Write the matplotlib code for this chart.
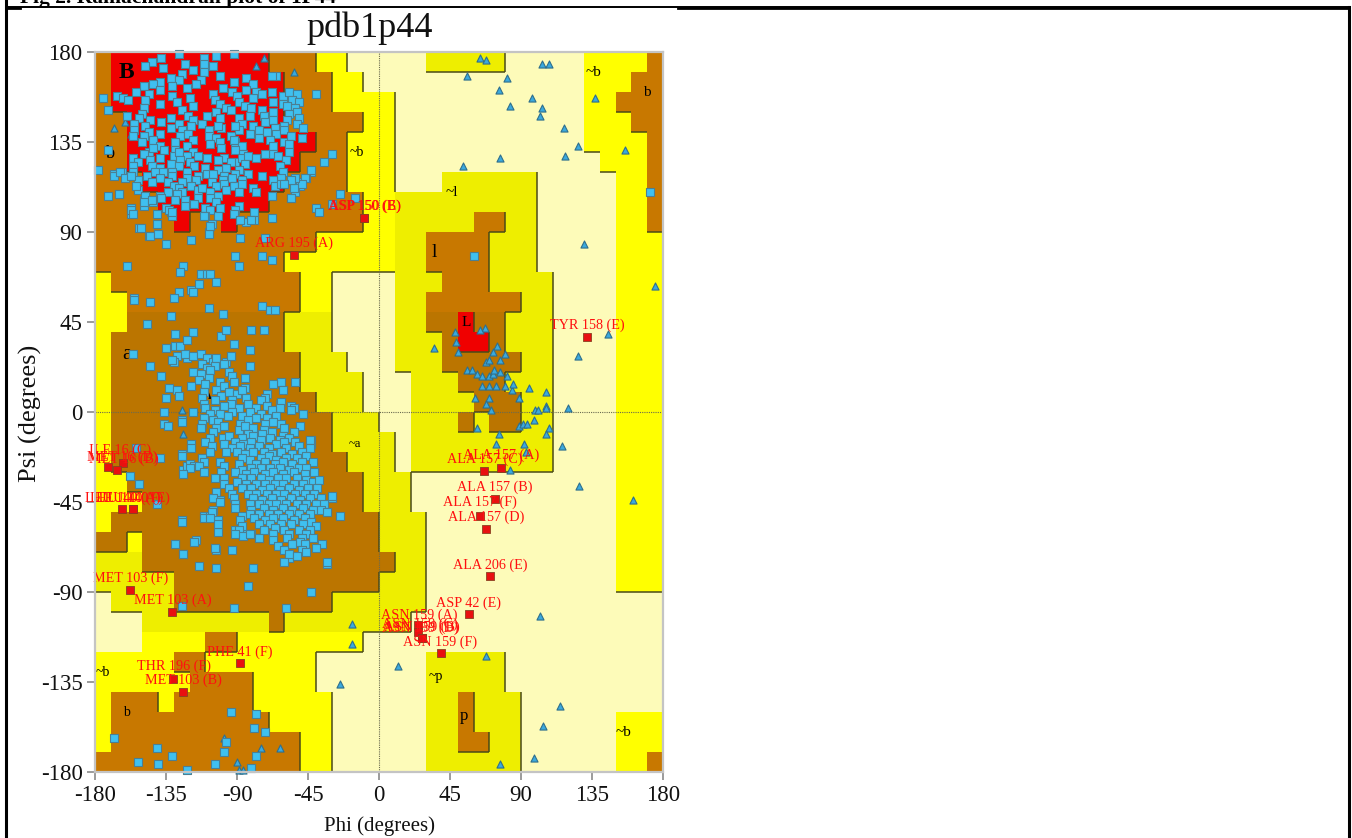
import numpy as np
import matplotlib
matplotlib.use("Agg")
import matplotlib.pyplot as plt
from matplotlib.colors import ListedColormap
from matplotlib.lines import Line2D

plt.rcParams["axes.unicode_minus"] = False
SERIF = "Liberation Serif"
W, H = 1352, 838

# Ramachandran regions: one run-length row per 10 degrees of psi, from +180 down
region_rows = [
 "B1 R10 B3 Y2 P5 O5 P5 Y4 B1", "B1 R11 B3 Y2 P14 Y3 B2", "B1 R11 B3 Y4 P12 Y2 B3",
 "B2 R10 B5 Y2 P12 Y3 B2", "B2 R12 B2 Y3 P12 Y4 B1", "B2 R11 B3 Y3 P13 Y3 B1",
 "B3 R9 B4 Y3 P3 O6 P5 Y2 B1", "B4 R7 B6 Y2 O9 P5 Y2 B1",
 "B5 R1 B2 R1 B8 Y2 O5 B2 O2 P5 Y2 B1", "B14 Y5 O2 B4 O3 P5 Y3", "B12 Y7 O2 B4 O3 P5 Y3",
 "Y1 B12 Y2 P4 O3 B3 O4 P4 Y3", "Y2 B11 Y2 P4 O2 B6 O2 P4 Y3",
 "Y2 D10 O3 P4 O2 D2 R1 D2 O3 P4 Y3", "Y1 D11 O3 P4 O3 D1 R2 D1 O3 P4 Y3",
 "Y1 D12 O3 P3 O3 D5 O2 P4 Y3", "Y1 D12 O4 P3 O3 D3 O3 P4 Y3", "Y1 D13 O3 P3 O4 D3 O2 P4 Y3",
 "Y1 D14 O3 P2 O3 D1 O1 D2 O2 P4 Y3", "Y1 D14 O4 P1 O9 P4 Y3", "Y1 D15 O3 P1 O9 P4 Y3",
 "Y2 D15 O3 P13 Y3", "Y3 D14 O3 P13 Y3", "Y1 D17 O3 P12 Y3", "D2 Y1 D15 O3 P12 Y3",
 "O3 D16 O2 P12 Y3", "O5 D13 O3 P12 Y3", "P1 O4 D10 O6 P15", "P3 O8 D1 O8 P16",
 "P3 Y4 B2 Y8 P19", "Y5 B2 Y7 P7 O5 P10", "Y6 B4 Y4 P7 O5 P10",
 "Y1 B3 Y1 B5 Y5 P6 O2 B1 O3 P9", "Y1 B10 Y4 P6 O2 B1 O3 P6 Y3",
 "Y1 B12 Y2 P6 O2 B2 O2 P6 Y3", "B13 Y2 P6 O6 P6 Y2 B1",
]
region_codes = "POYDBR"
region_colors = ["#FDFBB9", "#EEEE00", "#FFFF00", "#BB7500", "#C87800", "#F00000"]
region_level = {"P": 0, "O": 1, "Y": 1, "D": 2, "B": 2, "R": 3}

# Non-glycine residues in the beta area: (phi, psi)
beta_pts = [
 (-127,179),(-111,177),(-103,178),(-92,179),(-144,175),(-138,177),(-148,173),(-111,174),(-137,172),(-123,174),
 (-118,171),(-105,173),(-125,169),(-111,170),(-101,168),(-132,167),(-113,166),(-84,167),(-65,168),(-139,165),
 (-127,166),(-92,165),(-80,164),(-68,168),(-149,163),(-143,164),(-122,162),(-116,164),(-99,162),(-84,161),
 (-154,160),(-146,159),(-139,161),(-131,163),(-105,159),(-93,160),(-90,158),(-78,160),(-68,160),(-166,158),
 (-162,157),(-159,156),(-148,156),(-131,158),(-120,157),(-104,156),(-80,157),(-74,159),(-61,158),(-57,160),
 (-52,159),(-149,152),(-139,154),(-128,155),(-118,153),(-101,154),(-97,152),(-89,155),(-85,153),(-67,155),
 (-61,154),(-55,156),(-51,155),(-150,149),(-125,151),(-103,150),(-94,151),(-81,152),(-74,151),(-67,150),
 (-58,153),(-53,152),(-160,148),(-152,147),(-121,148),(-89,147),(-82,148),(-73,148),(-57,149),(-52,150),
 (-145,146),(-132,147),(-127,144),(-118,146),(-109,148),(-101,147),(-87,144),(-72,145),(-67,146),(-58,146),
 (-51,147),(-155,144),(-148,143),(-138,145),(-119,143),(-112,144),(-100,142),(-89,141),(-80,143),(-66,142),
 (-60,143),(-52,144),(-155,141),(-146,140),(-132,142),(-125,141),(-108,141),(-102,143),(-91,143),(-82,139),
 (-76,141),(-71,140),(-65,139),(-48,142),(-156,138),(-149,138),(-139,139),(-126,138),(-121,139),(-108,138),
 (-103,137),(-94,138),(-91,135),(-76,137),(-60,141),(-150,135),(-143,136),(-129,135),(-118,136),(-107,134),
 (-101,135),(-92,136),(-87,133),(-69,136),(-60,135),(-56,138),(-49,137),(-139,133),(-136,131),(-129,131),
 (-122,133),(-118,130),(-100,132),(-91,131),(-86,129),(-67,133),(-57,134),(-146,130),(-143,132),(-130,128),
 (-127,130),(-122,128),(-67,129),(-57,130),(-156,127),(-149,129),(-126,126),(-120,125),(-115,128),(-109,127),
 (-98,127),(-91,125),(-87,127),(-83,128),(-78,127),(-72,129),(-64,128),(-59,126),(-153,125),(-145,126),
 (-139,127),(-132,124),(-127,123),(-102,126),(-94,125),(-85,124),(-63,123),(-156,123),(-144,123),(-139,122),
 (-117,123),(-110,122),(-97,122),(-61,120),(-156,120),(-142,120),(-137,120),(-131,120),(-122,120),(-109,119),
 (-102,121),(-89,121),(-168,119),(-163,120),(-157,118),(-147,118),(-139,117),(-131,118),(-122,117),(-115,118),
 (-105,119),(-98,118),(-91,119),(-83,119),(-74,118),(-62,117),(-43,120),(-161,117),(-153,116),(-144,115),
 (-134,115),(-125,115),(-116,116),(-106,115),(-99,116),(-93,117),(-87,116),(-67,116),(-56,116),(-52,115),
 (-46,117),(-130,113),(-127,112),(-119,113),(-103,113),(-98,114),(-92,113),(-87,114),(-80,112),(-66,113),
 (-62,114),(-50,113),(-153,111),(-134,110),(-125,110),(-115,111),(-112,112),(-107,110),(-97,111),(-89,110),
 (-78,110),(-53,110),(-165,109),(-148,108),(-139,108),(-128,109),(-115,107),(-102,108),(-68,108),(-56,107),
 (-149,106),(-143,105),(-138,107),(-129,106),(-123,106),(-107,107),(-103,105),(-149,103),(-123,103),(-117,104),
 (-110,102),(-89,103),(-157,102),(-135,102),(-132,100),(-107,101),(-101,102),(-91,101),(-79,100),(-40,102),
 (-157,99),(-141,99),(-131,98),(-110,98),(-102,98),(-92,99),(-79,96),(-88,96),(-84,95),(-81,96),(-68,97),
 (-141,94),(-106,94),(-152,92),(-108,90),(-140,89),(-146,88),
]

# Non-glycine residues in the alpha area: (phi, psi)
alpha_pts = [
 (-123,29),(-118,28),(-113,29),(-109,27),(-94,28),(-131,26),(-105,25),(-103,27),(-98,24),(-112,24),(-109,22),
 (-104,23),(-82,23),(-118,20),(-113,19),(-107,21),(-95,20),(-93,18),(-114,16),(-108,17),(-101,15),(-85,17),
 (-119,13),(-110,14),(-98,13),(-92,15),(-85,12),(-111,10),(-103,11),(-100,8),(-95,10),(-90,9),(-87,11),(-71,9),
 (-112,7),(-104,6),(-93,6),(-84,7),(-72,7),(-111,4),(-94,4),(-83,4),(-75,6),(-71,3),(-62,5),(-110,2),(-104,1),
 (-98,3),(-89,2),(-78,2),(-63,2),(-56,1),(-118,0),(-107,-1),(-101,-1),(-93,0),(-87,-2),(-82,0),(-75,-1),(-68,1),
 (-111,-3),(-105,-4),(-96,-2),(-78,-3),(-71,-3),(-65,-2),(-48,-1),(-125,-5),(-112,-6),(-102,-5),(-98,-7),(-88,-6),
 (-83,-4),(-72,-6),(-67,-5),(-62,-6),(-113,-8),(-103,-8),(-89,-9),(-85,-7),(-80,-8),(-73,-9),(-60,-8),(-50,-7),
 (-105,-10),(-83,-11),(-74,-11),(-68,-10),(-61,-12),(-54,-10),(-107,-13),(-99,-13),(-95,-12),(-87,-13),(-80,-12),
 (-69,-13),(-63,-14),(-57,-13),(-110,-15),(-98,-16),(-91,-15),(-86,-16),(-81,-15),(-75,-14),(-65,-16),(-60,-15),
 (-53,-15),(-44,-14),(-119,-18),(-106,-17),(-93,-18),(-88,-17),(-82,-18),(-76,-17),(-70,-18),(-59,-18),(-51,-17),
 (-44,-18),(-107,-20),(-97,-20),(-90,-20),(-85,-21),(-80,-20),(-73,-20),(-68,-21),(-62,-20),(-55,-21),(-49,-20),
 (-125,-22),(-112,-23),(-87,-23),(-82,-24),(-75,-23),(-70,-22),(-65,-24),(-59,-23),(-52,-23),(-46,-22),(-111,-25),
 (-101,-25),(-89,-26),(-78,-26),(-72,-25),(-66,-26),(-61,-25),(-55,-26),(-49,-25),(-42,-25),(-120,-28),(-114,-27),
 (-98,-27),(-87,-29),(-81,-28),(-75,-28),(-69,-28),(-63,-28),(-57,-29),(-51,-28),(-46,-28),(-124,-31),(-111,-30),
 (-100,-30),(-91,-30),(-84,-31),(-79,-30),(-72,-31),(-67,-30),(-61,-31),(-54,-30),(-47,-31),(-41,-30),(-104,-33),
 (-98,-33),(-87,-33),(-81,-33),(-75,-33),(-70,-34),(-64,-33),(-59,-33),(-52,-33),(-46,-34),(-98,-36),(-90,-35),
 (-84,-36),(-78,-36),(-72,-36),(-66,-36),(-61,-36),(-54,-36),(-48,-36),(-42,-35),(-38,-34),(-95,-38),(-87,-38),
 (-81,-38),(-74,-39),(-69,-38),(-63,-39),(-57,-38),(-51,-39),(-45,-38),(-39,-38),(-103,-40),(-93,-41),(-83,-41),
 (-78,-41),(-71,-41),(-65,-41),(-60,-41),(-53,-41),(-47,-41),(-41,-41),(-105,-43),(-92,-43),(-80,-43),(-74,-44),
 (-68,-43),(-62,-44),(-56,-43),(-50,-44),(-44,-43),(-37,-43),(-30,-42),(-101,-45),(-91,-46),(-82,-46),(-76,-46),
 (-70,-46),(-65,-46),(-59,-46),(-52,-46),(-46,-46),(-40,-46),(-35,-46),(-91,-48),(-81,-49),(-73,-48),(-67,-49),
 (-61,-48),(-55,-49),(-48,-48),(-42,-49),(-37,-49),(-106,-50),(-82,-51),(-76,-51),(-70,-51),(-64,-51),(-57,-51),
 (-51,-51),(-44,-51),(-33,-50),(-111,-53),(-107,-53),(-88,-54),(-79,-53),(-72,-54),(-67,-53),(-61,-53),(-54,-54),
 (-47,-53),(-43,-55),(-25,-52),(-125,-55),(-102,-56),(-87,-57),(-76,-56),(-69,-56),(-62,-56),(-56,-56),(-48,-56),
 (-40,-57),(-89,-59),(-73,-59),(-66,-58),(-60,-59),(-51,-59),(-44,-59),(-91,-61),(-86,-62),(-82,-61),(-67,-61),
 (-57,-61),(-46,-61),(-76,-63),(-67,-64),(-58,-63),(-49,-63),(-42,-63),(-117,-65),(-50,-65),(-47,-66),(-129,-66),
 (-64,-67),(-55,-66),(-36,-66),(-104,-68),(-93,-69),(-60,-69),(-49,-69),(-40,-68),(-124,-71),(-57,-71),(-52,-72),
 (-46,-70),(-60,-75),(-33,-75),
]

# Scattered non-glycine residues: (phi, psi)
scattered = [
 (-175,157),(-172,151),(-172,131),(-178,121),(-168,118),(-164,120),(-161,117),(-157,118),(-154,113),(-165,109),
 (-172,108),(-148,108),(-149,105),(-144,106),(-157,101),(-156,99),(-151,92),(-145,88),(-140,89),(-141,94),
 (-135,84),(-133,101),(-131,100),(-119,86),(-108,89),(-107,93),(-111,98),(-88,87),(-88,96),(-72,87),(-91,78),
 (-74,78),(-68,76),(-89,73),(-160,73),(-124,73),(-126,70),(-113,69),(-109,69),(-107,69),(-103,65),(-114,64),
 (-119,61),(-118,60),(-127,60),(-130,57),(-155,57),(-30,129),(-35,125),(-25,109),(-30,104),(-38,100),(-15,107),
 (-40,159),(-47,117),(-43,121),(-49,114),(-53,117),(-54,112),(-56,116),(-60,114),(-56,107),(-68,108),
 (-155,56),(-145,55),(-108,52),(-99,49),(-74,53),(-69,51),(-66,51),(-132,48),(-147,44),(-118,40),(-129,39),
 (-100,38),(-97,41),(-81,41),(-73,41),(-92,34),(-82,31),(-135,32),(-129,33),(-126,33),(-122,36),(-156,29),
 (-128,28),(-122,27),(-130,25),(-94,28),(-97,25),(-145,23),(-138,18),(-133,12),
 (-128,11),(-127,8),(-135,7),(-136,0),(-136,-6),(-134,-7),(-125,-4),(-53,15),(-62,15),(-67,14),(-61,11),
 (-56,3),(-54,2),(-63,4),(-43,-14),(-43,-16),(-139,-23),(-154,-18),(-125,-21),(-119,-16),
 (-158,-32),(-152,-36),(-141,-46),(-124,-29),(-122,-27),(-120,-26),(-117,-27),(-112,-23),(-30,-43),(-33,-50),
 (-125,-54),(-111,-52),(-107,-52),(-102,-54),(-104,-43),(-101,-44),(-103,-40),(-105,-49),(-129,-66),(-116,-64),
 (-124,-71),(-102,-60),(-103,-69),(-91,-59),(-89,-59),(-87,-52),(-85,-61),(-81,-61),(-76,-63),
 (-114,-77),(-103,-78),(-80,-78),(-57,-73),(-33,-76),(-83,-87),(-43,-90),(-92,-98),(-59,-98),(-125,-97),
 (-94,-150),(-78,-151),(-79,-158),(-72,-160),(-168,-163),(-141,-168),(-131,-172),(-153,-175),(-140,-176),
 (-122,-179),(-104,-176),(-98,-170),(-97,-165),(-81,-178),(-78,-172),(172,110),(60,78),
]

# Glycine residues (triangles): (phi, psi)
glycine = [
 (-73,177),(-54,170),(-78,173),(-168,142),(-161,145),(-157,139),(-125,1),(-124,-11),
 (-98,-163),(-75,-168),(-63,-168),(-90,-175),(-89,-179),(-86,-179),(-17,-106),(-17,-116),(-25,-136),
 (64,177),(68,176),(103,174),(108,174),(56,168),(81,167),(76,161),(97,157),(137,157),(83,153),(103,152),
 (102,148),(117,142),(126,133),(118,128),(156,131),(77,127),(53,123),(130,84),(175,63),
 (67,42),(64,41),(48,40),(49,35),(50,30),(35,32),(75,33),(72,30),(80,29),(68,25),(70,26),(77,26),(56,21),(59,21),
 (62,19),(65,18),(70,18),(72,19),(73,21),(77,20),(81,18),(65,13),(70,13),(74,13),(80,13),(84,11),(85,14),(95,12),
 (106,10),(61,7),(70,7),(68,4),(89,7),(71,1),(99,1),(101,1),(106,3),(106,2),(120,2),(62,-8),(89,-7),(91,-6),(94,-6),
 (98,-4),(108,-8),(106,-11),(76,-11),(74,-16),(92,-16),(93,-20),(116,-17),(83,-29),(127,-37),(161,-44),(145,39),(126,28),
 (102,-102),(68,-122),(12,-127),(115,-147),(104,-157),(77,-176),(98,-173),
]

# Outliers: (label, phi, psi, label offset in phi degrees, label offset in psi degrees)
outliers = [
 ("ASP 150 (E)",-9.5,97,0.5,6),("ASP 150 (B)",-9.5,97,0,6),("ARG 195 (A)",-54,78.5,0,6),("TYR 158 (E)",132,37.5,0,6),
 ("ILE 16 (C)",-162,-25.5,-2,6.5),("MET 16 (D)",-166,-29,3,6.5),("MET 16 (B)",-172,-27.5,10,4),
 ("LEU 140 (A)",-162.7,-48.7,0,5.5),("LEU 140 (F)",-156,-48.7,-4,5.5),("LEU 140 (E)",-156,-48.7,0,5.5),
 ("MET 103 (F)",-157.5,-89,0,6),("MET 103 (A)",-131,-100,0.5,6),("PHE 41 (F)",-88,-125.5,0,5.5),
 ("THR 196 (F)",-130.5,-133.5,0.5,6.5),("MET 103 (B)",-124,-140,0,6),
 ("ALA 157 (A)",77.5,-28,0,6.5),("ALA 157 (C)",66.5,-29.7,0.5,6),("ALA 157 (B)",73.5,-43.5,0,6),
 ("ALA 157 (F)",64,-52,0,7),("ALA 157 (D)",68,-58.5,0,6),("ALA 206 (E)",70.5,-82,0,5.5),("ASP 42 (E)",57,-101,0,5.5),
 ("ASN 159 (A)",24.5,-106.5,1,5),("ASN 159 (C)",24.5,-110,1.5,4),("ASN 159 (B)",27,-113,0,5.5),("ASN 159 (D)",27,-113,-1,5),
 ("ASN 159 (F)",39,-120.7,0,5.5),
]

# Region letters: (text, phi, psi, size)
region_labels = [
 ("B",-160,170,17),("b",-170,129.5,13),("a",-160,29,15),("A",-109,8,9),("L",55,45,11),("l",35,80,14),
 ("~b",136,170,11),("b",170,160,11),("~b",-14,130,10),("~l",46,110,11),("~a",-15,-16,9),("~b",-175,-130,10),
 ("b",-160,-150,10),("~p",36,-132,10),("p",54,-152,12),("~b",155,-160,11),
]

tick_vals = [-180, -135, -90, -45, 0, 45, 90, 135, 180]

# ---- derived tables
rows = []
for spec in region_rows:
    rows.append("".join(tok[0] * int(tok[1:]) for tok in spec.split()))
grid = np.array([[region_codes.index(c) for c in row] for row in rows])
levels = np.array([[region_level[c] for c in row] for row in rows])
phi_edges = np.arange(-180, 181, 10)
psi_edges = np.arange(180, -181, -10)

loose = np.array(beta_pts + scattered, dtype=float)
dense = np.array(alpha_pts, dtype=float)
tri = np.array(glycine, dtype=float)

fig = plt.figure(figsize=(W / 100, H / 100), dpi=100, facecolor="white")
ax = fig.add_axes([95 / W, (H - 772) / H, 568 / W, 720 / H])
ax.pcolormesh(phi_edges, psi_edges, grid, cmap=ListedColormap(region_colors), vmin=0, vmax=5, zorder=1)
ax.set_xlim(-180, 180)
ax.set_ylim(-180, 180)

# dark lines along the bottom and right edges of each better region
for r in range(36):
    for c in range(36):
        if r < 35 and levels[r, c] > levels[r + 1, c]:
            ax.plot(phi_edges[c:c + 2], [psi_edges[r + 1]] * 2, color="#4a4a18", lw=1.1, zorder=2, solid_capstyle="butt")
        if c < 35 and levels[r, c] > levels[r, c + 1]:
            ax.plot([phi_edges[c + 1]] * 2, psi_edges[r:r + 2], color="#4a4a18", lw=1.1, zorder=2, solid_capstyle="butt")

ax.axhline(0, color="#6a6a50", lw=0.8, ls=(0, (1, 1)), zorder=3)
ax.axvline(0, color="#6a6a50", lw=0.8, ls=(0, (1, 1)), zorder=3)

for txt, phi, psi, size in region_labels:
    ax.text(phi, psi, txt, family=SERIF, fontsize=size, color="black", ha="center", va="center", zorder=4,
            fontweight="bold" if txt in ("B", "A") else "normal")

ax.scatter(tri[:, 0], tri[:, 1], marker="^", s=26, facecolor="#3AA9DE", edgecolor="#2F6F8C", lw=0.8, zorder=5, clip_on=False)
ax.scatter(loose[:, 0], loose[:, 1], marker="s", s=27, facecolor="#3FC0F0", edgecolor="#4B7F93", lw=0.8, zorder=6, clip_on=False)
ax.scatter(dense[:, 0], dense[:, 1], marker="s", s=38, facecolor="#3FC0F0", edgecolor="#4B7F93", lw=0.8, zorder=6, clip_on=False)

out_phi = [o[1] for o in outliers]
out_psi = [o[2] for o in outliers]
ax.scatter(out_phi, out_psi, marker="s", s=30, facecolor="#E81010", edgecolor="#8A4020", lw=0.6, zorder=7)
for name, phi, psi, dphi, dpsi in outliers:
    ax.text(phi + dphi, psi + dpsi, name, family=SERIF, fontsize=10.2, color="#FF1010", ha="center", va="center", zorder=8)

ax.set_xticks(tick_vals)
ax.set_yticks(tick_vals)
ax.tick_params(axis="both", length=6, width=1.2, color="#8a8a8a", labelsize=16.5, pad=3)
for lab in ax.get_xticklabels() + ax.get_yticklabels():
    lab.set_family(SERIF)
    lab.set_color("#111111")
for s in ax.spines.values():
    s.set_color("#C4C4C4")
    s.set_linewidth(1.6)
    s.set_zorder(9)

fx = lambda x: x / W
fy = lambda y: 1 - y / H
fig.text(fx(370), fy(28), "pdb1p44", family=SERIF, fontsize=26, color="#111111", ha="center", va="center")
fig.text(fx(379), fy(826), "Phi (degrees)", family=SERIF, fontsize=15, color="#111111", ha="center", va="center")
fig.text(fx(30), fy(413), "Psi (degrees)", family=SERIF, fontsize=19, color="#111111", ha="center", va="center", rotation=90)
fig.text(fx(20), fy(3), "Fig 2. Ramachandran plot of 1P44", family=SERIF, fontsize=15.5, fontweight="bold",
         color="black", ha="left", va="baseline")

for xs, ys, lw in [((6, 1349), (7.5, 7.5), 1.4), ((6, 20), (8, 8), 2), ((678, 1349), (8, 8), 2),
                   ((6, 6), (0, 838), 2.2), ((1349, 1349), (7, 838), 2.2)]:
    fig.add_artist(Line2D([fx(x) for x in xs], [fy(y) for y in ys], transform=fig.transFigure, color="black", lw=lw))

fig.savefig("out.png", dpi=100, facecolor="white")
